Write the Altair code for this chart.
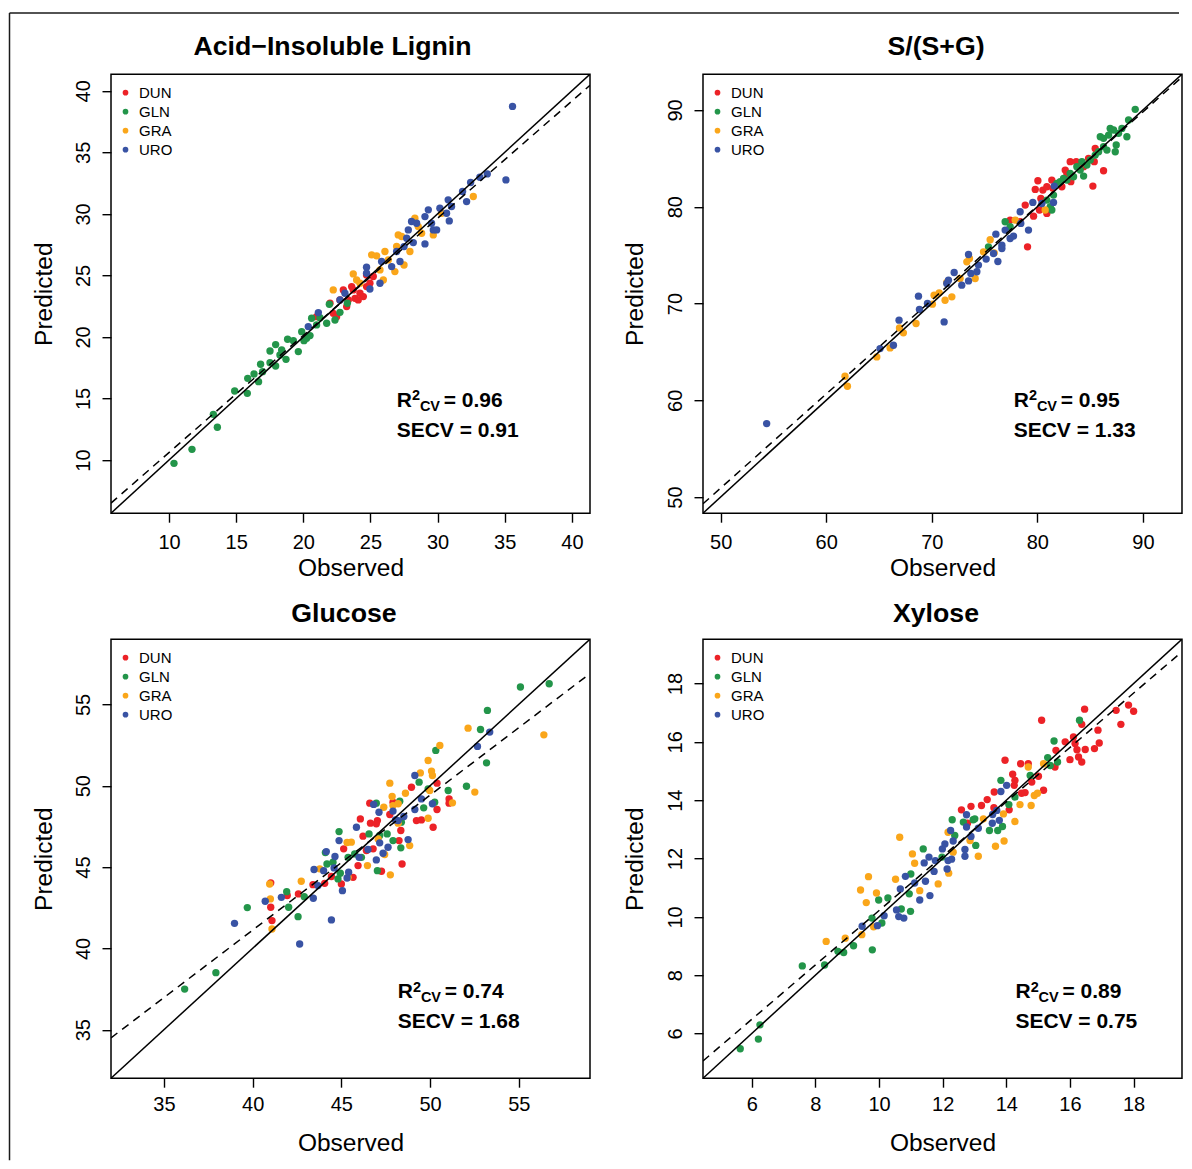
import altair as alt
import pandas as pd

GROUPS = ["DUN", "GLN", "GRA", "URO"]
COLORS = ["#EC2227", "#23954A", "#FAA61A", "#3953A4"]
FONT = "Liberation Sans"

# ---------------- Panel 1: Acid-Insoluble Lignin ----------------
p1_dun_obs = [21.99, 22.23, 22.73, 22.98, 23.23, 23.6, 23.85, 24.22, 24.47, 24.71, 24.96, 25.21, 23.72, 23.35, 22.48, 20.99, 24.71, 24.09]
p1_dun_pred = [22.74, 21.92, 23.01, 23.82, 22.47, 24.09, 23.14, 23.55, 23.28, 24.09, 24.36, 24.91, 23.82, 23.01, 21.65, 21.65, 25.04, 23.01]
p1_gln_obs = [10.37, 11.71, 13.6, 13.3, 14.89, 15.83, 15.86, 16.33, 16.67, 16.82, 16.97, 17.52, 17.94, 17.94, 17.52, 18.26, 18.71, 18.83, 19.26, 19.63, 19.88, 20.05, 20.5, 20.62, 21.24, 21.74, 21.94, 22.36, 22.73, 23.28, 18.39, 20.25, 20.99]
p1_gln_pred = [9.73, 10.87, 12.66, 13.71, 15.61, 15.42, 16.64, 16.99, 16.37, 17.78, 17.18, 18.86, 19.38, 17.64, 17.91, 18.54, 18.18, 19.81, 19.7, 18.81, 20.43, 19.7, 20.11, 21.52, 21.57, 21.11, 22.66, 21.38, 22.0, 22.74, 18.94, 19.89, 20.98]
p1_gra_obs = [22.23, 23.72, 23.97, 25.09, 25.46, 26.08, 25.96, 26.82, 27.5, 26.95, 27.07, 27.32, 27.94, 28.31, 28.56, 28.81, 29.68, 30.3, 32.66, 25.71, 26.33, 24.22]
p1_gra_pred = [23.82, 25.12, 24.63, 26.67, 26.59, 26.94, 24.63, 25.31, 25.85, 27.35, 28.29, 28.16, 26.94, 29.65, 28.97, 28.43, 28.29, 30.05, 31.41, 25.45, 26.26, 24.36]
p1_uro_obs = [20.37, 21.12, 22.73, 23.1, 24.71, 24.71, 24.96, 25.71, 25.83, 26.58, 27.2, 26.95, 27.5, 27.7, 27.82, 28.19, 28.06, 28.44, 29.06, 29.06, 29.31, 29.55, 29.68, 29.93, 30.17, 30.67, 30.79, 30.87, 31.04, 31.86, 32.16, 32.46, 33.15, 33.7, 35.09, 35.58]
p1_uro_pred = [20.84, 21.98, 23.01, 23.55, 25.66, 25.18, 23.9, 24.36, 26.13, 25.72, 26.13, 26.94, 27.34, 28.02, 28.7, 27.67, 29.38, 29.24, 27.56, 29.78, 30.33, 29.24, 28.7, 28.7, 30.46, 30.05, 31.14, 29.43, 30.6, 31.82, 31.0, 32.55, 32.98, 33.25, 32.76, 38.73]

# ---------------- Panel 2: S/(S+G) ----------------
p2_dun_obs = [78.37, 79.07, 78.85, 79.64, 80.05, 79.8, 80.52, 80.9, 80.9, 81.37, 81.47, 82.32, 82.64, 83.11, 83.17, 83.68, 84.38, 84.85, 85.26, 85.48, 85.39, 86.27, 82.8, 80.2, 77.42, 80.33]
p2_dun_pred = [78.45, 75.86, 80.17, 79.03, 82.69, 81.79, 81.72, 79.31, 82.07, 82.76, 81.9, 82.07, 83.79, 84.66, 82.59, 84.66, 84.14, 85.0, 82.14, 86.03, 84.66, 83.72, 83.45, 79.66, 78.62, 80.86]
p2_gln_obs = [75.37, 76.95, 77.42, 80.9, 81.22, 81.37, 81.53, 81.85, 82.16, 82.48, 82.8, 83.11, 83.43, 83.74, 84.06, 84.38, 84.69, 85.01, 85.8, 85.96, 86.27, 86.59, 86.75, 86.9, 87.22, 87.38, 87.47, 87.69, 88.01, 88.48, 88.64, 89.27, 86.27, 85.48, 84.22]
p2_gln_pred = [75.86, 78.45, 77.93, 80.69, 80.0, 79.66, 81.21, 82.41, 82.59, 82.93, 82.76, 83.45, 83.1, 84.14, 83.79, 83.17, 84.31, 84.83, 85.69, 87.24, 87.07, 85.86, 87.41, 88.1, 87.93, 85.69, 86.38, 87.59, 88.1, 87.24, 88.97, 90.07, 86.21, 85.34, 84.66]
p2_gra_obs = [61.78, 62.01, 64.79, 66.05, 66.94, 67.31, 68.51, 70.06, 70.22, 70.7, 71.26, 71.9, 71.42, 72.68, 73.32, 73.57, 74.11, 74.9, 75.53, 75.91, 80.74, 77.9]
p2_gra_pred = [62.48, 61.45, 64.48, 65.41, 67.48, 66.97, 67.93, 69.93, 70.86, 71.1, 70.34, 70.69, 72.17, 72.59, 74.31, 74.66, 72.59, 75.34, 76.59, 75.24, 79.66, 78.62]
p2_uro_obs = [54.36, 65.1, 66.37, 66.9, 68.74, 68.83, 69.59, 71.17, 71.42, 71.58, 72.12, 72.84, 73.48, 73.48, 73.7, 74.27, 74.42, 75.15, 75.85, 76.26, 76.07, 76.64, 76.64, 76.95, 77.42, 77.74, 78.37, 78.43, 79.16, 79.57, 81.6, 81.53, 80.43]
p2_uro_pred = [57.59, 65.34, 65.69, 68.28, 70.76, 69.38, 70.0, 68.1, 72.07, 72.41, 73.21, 71.9, 75.07, 72.34, 73.1, 73.28, 73.97, 74.59, 75.17, 74.34, 77.17, 76.03, 75.69, 77.59, 76.72, 76.97, 79.48, 78.28, 77.59, 80.45, 82.14, 80.45, 80.34]

# ---------------- Panel 3: Glucose ----------------
p3_dun_obs = [41.02, 41.02, 41.09, 41.95, 42.58, 43.4, 44.06, 44.44, 45.0, 45.13, 45.66, 45.94, 46.07, 46.22, 46.41, 46.6, 46.64, 46.79, 47.03, 47.26, 47.73, 47.91, 48.25, 48.35, 48.42, 48.95, 49.23, 49.51, 50.17, 50.39, 50.39, 51.07, 51.07, 46.97]
p3_dun_pred = [44.03, 42.53, 41.71, 43.25, 43.35, 43.92, 44.0, 44.42, 43.96, 46.12, 44.37, 45.09, 47.96, 46.9, 46.02, 48.93, 47.7, 46.12, 47.86, 44.74, 48.23, 48.99, 46.63, 47.25, 45.19, 49.91, 47.86, 47.9, 47.45, 48.54, 50.16, 49.19, 48.93, 47.66]
p3_gln_obs = [36.17, 37.93, 39.7, 41.92, 42.03, 42.56, 42.91, 44.1, 44.19, 44.53, 44.81, 44.87, 44.94, 45.38, 45.75, 46.13, 46.56, 46.97, 47.03, 47.58, 47.91, 48.29, 48.35, 48.38, 49.38, 49.64, 49.89, 50.32, 50.26, 51.02, 52.05, 52.84, 53.18, 53.23, 55.09, 56.71, 47.16]
p3_gln_pred = [37.5, 38.51, 42.51, 43.49, 42.53, 41.95, 43.18, 45.89, 45.19, 45.3, 44.27, 47.18, 44.62, 45.6, 45.81, 45.6, 47.04, 48.93, 44.78, 47.04, 46.63, 49.05, 46.18, 47.76, 50.22, 48.64, 49.81, 52.17, 48.99, 49.71, 49.97, 53.46, 51.41, 54.63, 56.07, 56.27, 46.94]
p3_gra_obs = [40.96, 41.0, 41.09, 42.74, 43.78, 45.32, 45.56, 45.38, 46.47, 47.07, 47.39, 47.44, 47.73, 47.76, 47.86, 47.91, 48.2, 48.2, 48.61, 48.85, 49.45, 49.89, 49.89, 50.08, 50.13, 50.55, 51.26, 52.14, 52.52, 56.41, 49.98]
p3_gra_pred = [43.96, 43.04, 41.19, 44.13, 44.89, 46.51, 46.53, 44.37, 45.09, 46.73, 48.68, 45.77, 50.16, 44.52, 49.34, 48.78, 48.89, 47.7, 49.54, 46.32, 50.79, 51.55, 48.0, 50.9, 50.63, 52.48, 48.95, 53.54, 49.61, 53.13, 49.71]
p3_uro_obs = [38.98, 40.71, 41.62, 42.65, 43.42, 43.46, 43.68, 44.15, 44.0, 44.44, 44.59, 44.64, 44.87, 45.06, 45.32, 45.41, 45.85, 46.0, 46.5, 46.82, 46.97, 47.12, 47.16, 47.35, 47.63, 47.91, 48.05, 48.2, 48.52, 48.76, 49.14, 49.14, 49.51, 50.13, 52.67, 53.36]
p3_uro_pred = [41.54, 42.9, 43.14, 40.27, 43.08, 44.85, 43.86, 45.95, 44.78, 41.75, 44.95, 45.65, 46.63, 43.55, 44.33, 44.68, 47.45, 45.6, 46.08, 48.85, 45.44, 48.37, 46.49, 45.85, 46.22, 48.44, 47.9, 47.86, 48.11, 46.69, 50.63, 48.54, 49.19, 48.89, 52.42, 53.3]

# ---------------- Panel 4: Xylose ----------------
p4_dun_obs = [12.59, 12.89, 12.78, 13.22, 13.4, 13.61, 13.62, 13.96, 14.09, 14.2, 14.25, 14.27, 14.45, 14.48, 14.59, 14.69, 14.8, 15.01, 15.11, 15.17, 15.53, 15.56, 15.85, 16.0, 16.11, 16.16, 16.22, 16.27, 16.37, 16.37, 16.46, 16.48, 16.77, 16.88, 16.92, 17.45, 17.6, 17.84, 18.0]
p4_dun_pred = [13.67, 13.79, 13.21, 13.82, 14.02, 13.74, 14.28, 15.37, 13.67, 14.89, 14.51, 14.68, 15.25, 14.24, 14.26, 15.25, 14.62, 14.82, 16.74, 14.34, 15.14, 15.71, 16.0, 15.39, 16.17, 15.94, 15.73, 15.48, 15.31, 16.6, 17.12, 15.74, 15.77, 16.4, 15.96, 17.08, 16.6, 17.26, 17.05]
p4_gln_obs = [5.64, 6.21, 6.26, 7.59, 8.29, 8.71, 8.89, 9.2, 9.79, 9.78, 9.99, 10.09, 10.28, 10.7, 10.99, 10.95, 11.0, 11.39, 11.98, 12.3, 12.38, 12.65, 12.96, 13.04, 13.01, 13.47, 13.73, 13.88, 13.83, 14.08, 14.27, 14.75, 15.3, 15.38, 15.5, 15.61, 16.3]
p4_gln_pred = [5.48, 5.81, 6.3, 8.32, 8.35, 8.82, 8.78, 9.01, 8.87, 9.96, 10.58, 9.79, 10.65, 10.27, 10.19, 10.79, 11.47, 12.33, 12.05, 13.33, 12.79, 13.25, 13.33, 12.45, 13.36, 12.96, 12.96, 13.1, 14.68, 13.85, 14.11, 14.85, 15.46, 15.19, 16.03, 15.31, 16.74]
p4_gra_obs = [8.34, 8.94, 9.46, 9.42, 9.6, 9.67, 9.92, 9.83, 10.52, 10.65, 11.05, 11.12, 11.28, 11.86, 12.17, 12.19, 12.33, 12.86, 13.12, 13.28, 13.66, 13.91, 13.93, 14.27, 14.43, 14.78, 14.88, 14.98, 14.69, 15.17]
p4_gra_pred = [9.16, 9.27, 9.39, 10.92, 10.49, 11.38, 10.82, 9.66, 11.29, 12.73, 12.16, 11.84, 10.9, 11.13, 12.9, 11.5, 12.22, 12.62, 12.08, 13.36, 12.42, 13.53, 12.6, 13.27, 13.85, 13.82, 14.16, 14.24, 15.14, 15.25]
p4_uro_obs = [9.47, 9.95, 10.16, 10.55, 10.62, 10.78, 10.67, 10.83, 11.12, 11.28, 11.46, 11.6, 11.42, 11.57, 11.73, 11.77, 11.99, 12.07, 12.14, 12.17, 12.25, 12.28, 12.33, 12.7, 12.7, 12.75, 12.75, 12.89, 13.12, 13.56, 13.57, 13.78, 13.7, 13.83, 14.01]
p4_uro_pred = [9.68, 9.7, 10.04, 10.24, 10.01, 9.96, 10.96, 11.39, 11.16, 10.58, 11.22, 10.73, 11.85, 12.05, 11.56, 11.93, 12.33, 12.5, 11.64, 11.93, 12.96, 11.98, 12.6, 12.31, 12.08, 13.08, 13.5, 12.76, 13.04, 13.21, 13.51, 13.31, 13.65, 14.3, 14.51]

# Axis limits, ticks, regression (dashed) line end values, stats
P1 = dict(title="Acid\u2212Insoluble Lignin", lo=5.68, hi=41.35, ticks=[10, 15, 20, 25, 30, 35, 40],
          reg=[6.5, 40.45], r2="0.96", secv="0.91", title_dx=-18)
P2 = dict(title="S/(S+G)", lo=48.33, hi=93.7, ticks=[50, 60, 70, 80, 90],
          reg=[49.3, 93.4], r2="0.95", secv="1.33", title_dx=-6.5)
P3 = dict(title="Glucose", lo=32.02, hi=59.01, ticks=[35, 40, 45, 50, 55],
          reg=[34.5, 56.9], r2="0.74", secv="1.68", title_dx=-6.5)
P4 = dict(title="Xylose", lo=4.47, hi=19.52, ticks=[6, 8, 10, 12, 14, 16, 18],
          reg=[5.06, 19.09], r2="0.89", secv="0.75", title_dx=-6.5)

W, H = 479, 439


def make_df(obs_lists, pred_lists):
    rows = []
    for g, o, p in zip(GROUPS, obs_lists, pred_lists):
        for a, b in zip(o, p):
            rows.append({"group": g, "obs": a, "pred": b})
    return pd.DataFrame(rows)


def panel(cfg, df, row, stats_x, frame=False):
    lo, hi = cfg["lo"], cfg["hi"]
    if row == 0:
        xlab_pad, xtitle_y, title_y, stats_y = 10.0, 62.7, -19, 332.7
    else:
        xlab_pad, xtitle_y, title_y, stats_y = 7.5, 72.2, -17.3, 359.3
    sc = alt.Scale(domain=[lo, hi], nice=False, zero=False)
    xaxis = alt.Axis(values=cfg["ticks"], title="Observed", grid=False, domain=False,
                     tickSize=9, tickWidth=1.4, tickColor="black",
                     labelFontSize=20, labelFont=FONT, labelColor="black",
                     labelPadding=xlab_pad, labelBaseline="top", labelAngle=0,
                     titleFont=FONT, titleFontSize=24.5, titleFontWeight="normal", titleColor="black",
                     titleX=W / 2, titleY=xtitle_y, titleBaseline="alphabetic", titleAlign="center")
    yaxis = alt.Axis(values=cfg["ticks"], title="Predicted", grid=False, domain=False,
                     tickSize=9, tickWidth=1.4, tickColor="black",
                     labelFontSize=20, labelFont=FONT, labelColor="black",
                     labelPadding=12.7, labelAngle=270, labelAlign="center", labelBaseline="alphabetic",
                     titleFont=FONT, titleFontSize=24.5, titleFontWeight="normal", titleColor="black",
                     titleAngle=270, titleX=-60, titleY=H / 2, titleBaseline="alphabetic", titleAlign="center")
    X = alt.X("obs:Q", scale=sc, axis=xaxis)
    Y = alt.Y("pred:Q", scale=sc, axis=yaxis)

    legend = alt.Legend(orient="none", legendX=7, legendY=11, title=None,
                        symbolType="circle", symbolSize=32, symbolStrokeWidth=0,
                        labelFont=FONT, labelFontSize=15, labelColor="black",
                        labelOffset=6, rowPadding=3.0, padding=0)
    pts = alt.Chart(df).mark_circle(size=54, opacity=1).encode(
        x=X, y=Y,
        color=alt.Color("group:N", scale=alt.Scale(domain=GROUPS, range=COLORS), legend=legend),
    )
    one_df = pd.DataFrame({"obs": [lo, hi], "pred": [lo, hi]})
    one = alt.Chart(one_df).mark_line(color="black", strokeWidth=1.5, clip=True).encode(x=X, y=Y)
    reg_df = pd.DataFrame({"obs": [lo, hi], "pred": cfg["reg"]})
    reg = alt.Chart(reg_df).mark_line(color="black", strokeWidth=1.5, strokeDash=[8, 6], clip=True).encode(x=X, y=Y)

    tdf = pd.DataFrame({"t": [cfg["title"]]})
    title = alt.Chart(tdf).mark_text(font=FONT, fontSize=26.7, fontWeight="bold", color="black",
                                     align="center", baseline="alphabetic").encode(
        text="t:N", x=alt.value(W / 2 + cfg["title_dx"]), y=alt.value(title_y))

    def txt(s, dx, dy, size):
        return alt.Chart(pd.DataFrame({"t": [s]})).mark_text(
            font=FONT, fontSize=size, fontWeight="bold", color="black",
            align="left", baseline="alphabetic").encode(
            text="t:N", x=alt.value(stats_x + dx), y=alt.value(stats_y + dy))

    stats = [txt("R", 0, 0, 21), txt("2", 15.3, -6.5, 14.5), txt("CV", 23.2, 4, 14.5),
             txt("= " + cfg["r2"], 47, 0, 21), txt("SECV = " + cfg["secv"], 0, 30, 21)]

    layers = [pts, one, reg, title] + stats
    if frame:
        fdf = pd.DataFrame({"k": [0]})
        left = alt.Chart(fdf).mark_rule(color="#1a1a1a", strokeWidth=1.5).encode(
            x=alt.value(-101.5), y=alt.value(-61.3), y2=alt.value(1086))
        top = alt.Chart(fdf).mark_rule(color="#1a1a1a", strokeWidth=1.5).encode(
            y=alt.value(-61.3), x=alt.value(-101.5), x2=alt.value(1068))
        layers += [left, top]
    return alt.layer(*layers).properties(width=W, height=H)


df1 = make_df([p1_dun_obs, p1_gln_obs, p1_gra_obs, p1_uro_obs], [p1_dun_pred, p1_gln_pred, p1_gra_pred, p1_uro_pred])
df2 = make_df([p2_dun_obs, p2_gln_obs, p2_gra_obs, p2_uro_obs], [p2_dun_pred, p2_gln_pred, p2_gra_pred, p2_uro_pred])
df3 = make_df([p3_dun_obs, p3_gln_obs, p3_gra_obs, p3_uro_obs], [p3_dun_pred, p3_gln_pred, p3_gra_pred, p3_uro_pred])
df4 = make_df([p4_dun_obs, p4_gln_obs, p4_gra_obs, p4_uro_obs], [p4_dun_pred, p4_gln_pred, p4_gra_pred, p4_uro_pred])

c1 = panel(P1, df1, 0, 285.7, frame=True)
c2 = panel(P2, df2, 0, 310.7)
c3 = panel(P3, df3, 1, 286.7)
c4 = panel(P4, df4, 1, 312.4)

chart = alt.concat(c1, c2, c3, c4, columns=2, spacing={"row": 126, "column": 113}, bounds="flush").resolve_scale(
    x="independent", y="independent", color="independent"
).resolve_legend(color="independent").configure_view(
    stroke="black", strokeWidth=1.5
).properties(padding={"left": 0, "top": 3.2, "right": 0, "bottom": 0}, background="white")

chart.save("out.html", embed_options={"renderer": "svg", "actions": False})
